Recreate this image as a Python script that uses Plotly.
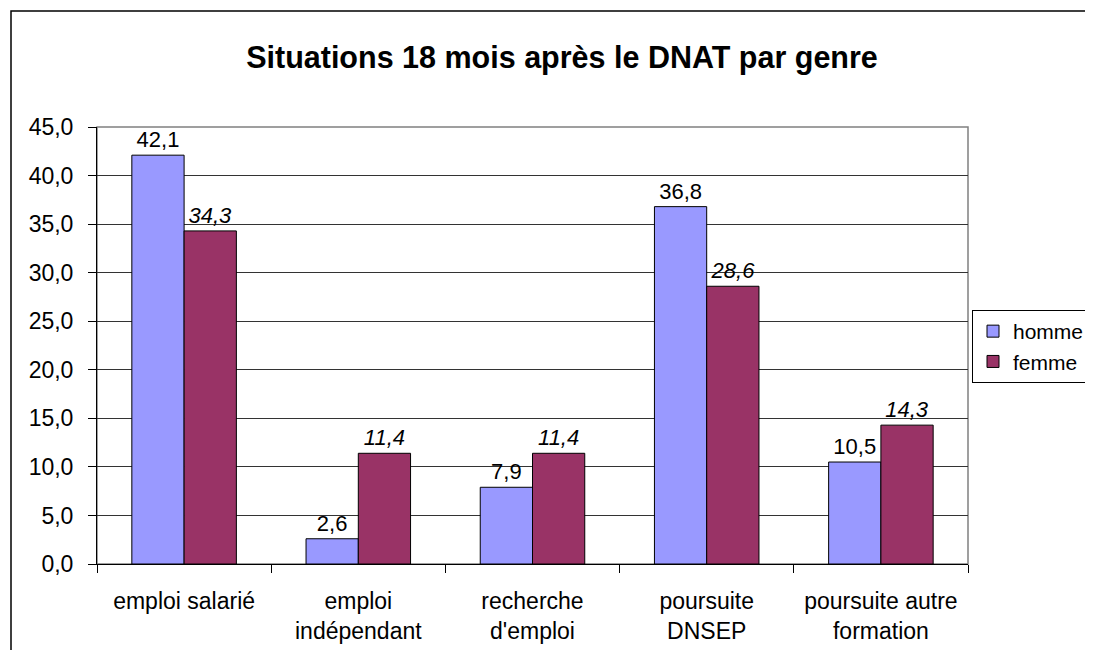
import plotly.graph_objects as go

# data
categories = ["emploi salarié", "emploi<br>indépendant", "recherche<br>d'emploi",
              "poursuite<br>DNSEP", "poursuite autre<br>formation"]
homme = [42.1, 2.6, 7.9, 36.8, 10.5]
femme = [34.3, 11.4, 11.4, 28.6, 14.3]
y_ticks = [0, 5, 10, 15, 20, 25, 30, 35, 40, 45]

FONT = "Liberation Sans, Arial, sans-serif"
FS = 22

fig = go.Figure()
fig.add_trace(go.Bar(
    x=categories, y=homme, name="homme",
    marker=dict(color="#9999FF", line=dict(color="black", width=1)),
    text=[f"{v:.1f}".replace(".", ",") for v in homme],
    textposition="outside", cliponaxis=False,
    textfont=dict(family=FONT, size=FS, color="black"),
))
fig.add_trace(go.Bar(
    x=categories, y=femme, name="femme",
    marker=dict(color="#993366", line=dict(color="black", width=1)),
    text=[f"{v:.1f}".replace(".", ",") for v in femme],
    textposition="outside", cliponaxis=False,
    textfont=dict(family=FONT, size=FS, color="black", style="italic"),
))

# page body adds 8px around the figure; keep the figure inside the window
# plot area in screen px is 97..968 x 127..564
OFF = 8
W, H = 1093 - 2 * OFF, 658 - 2 * OFF
L, T = 97 - OFF, 127 - OFF
pw, ph = 968 - 97, 564 - 127
R, B = W - L - pw, H - T - ph

def px_x(x):
    return (x - OFF - L) / pw

def px_y(y):
    return (T + ph - (y - OFF)) / ph

fig.update_layout(
    width=W, height=H,
    margin=dict(l=L, r=R, t=T, b=B, autoexpand=False),
    paper_bgcolor="white", plot_bgcolor="white",
    font=dict(family=FONT, size=FS, color="black"),
    separators=",.",
    barmode="group", bargap=0.4, bargroupgap=0,
    title=dict(text="<b>Situations 18 mois après le DNAT par genre</b>",
               x=(562 - OFF) / W, xanchor="center", y=1 - (57 - OFF) / H, yanchor="middle",
               yref="container", font=dict(family=FONT, size=30.5, color="black")),
    showlegend=True,
    legend=dict(xref="container", yref="container",
                x=(972 - OFF) / W, y=1 - (310 - OFF) / H, xanchor="left", yanchor="top",
                bordercolor="black", borderwidth=1, bgcolor="white",
                font=dict(family=FONT, size=21, color="black"),
                itemwidth=30, tracegroupgap=0),
    xaxis=dict(showline=True, linecolor="black", linewidth=1,
               ticks="outside", ticklen=8, tickcolor="black", automargin=False,
               tickson="boundaries", showgrid=False, ticklabelstandoff=16,
               tickfont=dict(family=FONT, size=23)),
    yaxis=dict(range=[0, 45], tickvals=y_ticks, tickformat=".1f", automargin=False,
               showline=True, linecolor="black", linewidth=1,
               ticks="outside", ticklen=8, tickcolor="black", ticklabelstandoff=10,
               showgrid=True, gridcolor="#333333", gridwidth=1,
               zeroline=False, tickfont=dict(family=FONT, size=23)),
    shapes=[
        # plot area frame (grey top/right)
        dict(type="rect", xref="paper", yref="paper", x0=0, y0=0, x1=1, y1=1,
             line=dict(color="#808080", width=1.5), layer="below"),
        # outer chart border
        dict(type="rect", xref="paper", yref="paper",
             x0=px_x(11), y0=px_y(H + 40), x1=px_x(W + 40), y1=px_y(11),
             line=dict(color="black", width=1.5)),
    ],
)

fig.write_html("out.html")
